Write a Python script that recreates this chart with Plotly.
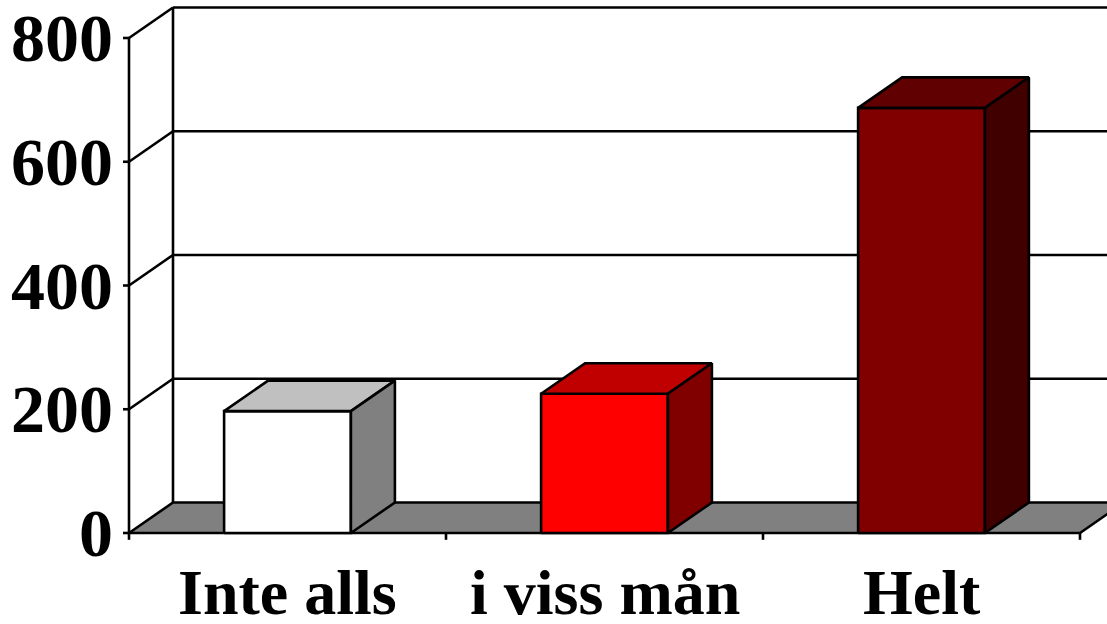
import plotly.graph_objects as go

# Chart data
categories = ["Inte alls", "i viss mån", "Helt"]
values = [197, 225, 687]
y_ticks = [0, 200, 400, 600, 800]
y_tick_labels = ["0", "200", "400", "600", "800"]

# Bar face colours: (front, top, side)
bar_colors = [
    ("#FFFFFF", "#C0C0C0", "#808080"),
    ("#FF0000", "#C00000", "#800000"),
    ("#800000", "#600000", "#400000"),
]

# 3D geometry in data units
BAR_W = 0.4            # bar width in category units
DX = 44 / 317          # depth offset along x (category units)
DY = 30.5 / 0.61875    # depth offset along y (value units)
Y_MAX = 800
N = len(categories)

FONT = "Liberation Serif, Times New Roman, serif"
LW = 2.6
LINE = dict(color="black", width=LW)

fig = go.Figure()


def poly(xs, ys, fill):
    fig.add_trace(go.Scatter(
        x=list(xs) + [xs[0]], y=list(ys) + [ys[0]],
        mode="lines", fill="toself", fillcolor=fill,
        line=LINE, hoverinfo="skip", showlegend=False))


def segments(segs, width=LW):
    xs, ys = [], []
    for (x0, y0), (x1, y1) in segs:
        xs += [x0, x1, None]
        ys += [y0, y1, None]
    fig.add_trace(go.Scatter(x=xs, y=ys, mode="lines",
                             line=dict(color="black", width=width),
                             hoverinfo="skip", showlegend=False))


# Back wall gridlines and left wall edge
segments([((DX, v + DY), (N + DX, v + DY)) for v in y_ticks if v > 0]
         + [((DX, DY), (DX, Y_MAX + DY))]
         + [((0, v), (DX, v + DY)) for v in y_ticks if v > 0])

# Floor
poly([0, N, N + DX, DX], [0, 0, DY, DY], "#808080")

# Value axis with ticks
segments([((0, 0), (0, Y_MAX))] +
         [((-0.019, v), (0, v)) for v in y_ticks])

# Category axis ticks
segments([((i, 0), (i, -11)) for i in range(N + 1)])

# 3D bars
for i, (v, (c_front, c_top, c_side)) in enumerate(zip(values, bar_colors)):
    x0 = i + 0.5 - BAR_W / 2
    x1 = i + 0.5 + BAR_W / 2
    poly([x0, x1, x1, x0], [0, 0, v, v], c_front)
    poly([x0, x1, x1 + DX, x0 + DX], [v, v, v + DY, v + DY], c_top)
    poly([x1, x1 + DX, x1 + DX, x1], [0, DY, v + DY, v], c_side)

annotations = []
for v, t in zip(y_ticks, y_tick_labels):
    annotations.append(dict(
        x=0, y=v, xref="x", yref="y", text=f"<b>{t}</b>", showarrow=False,
        xanchor="right", yanchor="middle", xshift=-14,
        font=dict(family=FONT, size=68, color="black")))
for i, c in enumerate(categories):
    annotations.append(dict(
        x=i + 0.5, y=-96, xref="x", yref="y", text=f"<b>{c}</b>",
        showarrow=False, xanchor="center", yanchor="middle",
        font=dict(family=FONT, size=64, color="black")))

fig.update_layout(
    width=1107, height=624,
    margin=dict(l=0, r=0, t=0, b=0),
    paper_bgcolor="white", plot_bgcolor="white",
    xaxis=dict(range=[-129 / 317, (1107 - 129) / 317], visible=False,
               fixedrange=True),
    yaxis=dict(range=[-91 / 0.61875, 533 / 0.61875], visible=False,
               fixedrange=True),
    annotations=annotations,
    font=dict(family=FONT),
)

fig.write_html("out.html")
